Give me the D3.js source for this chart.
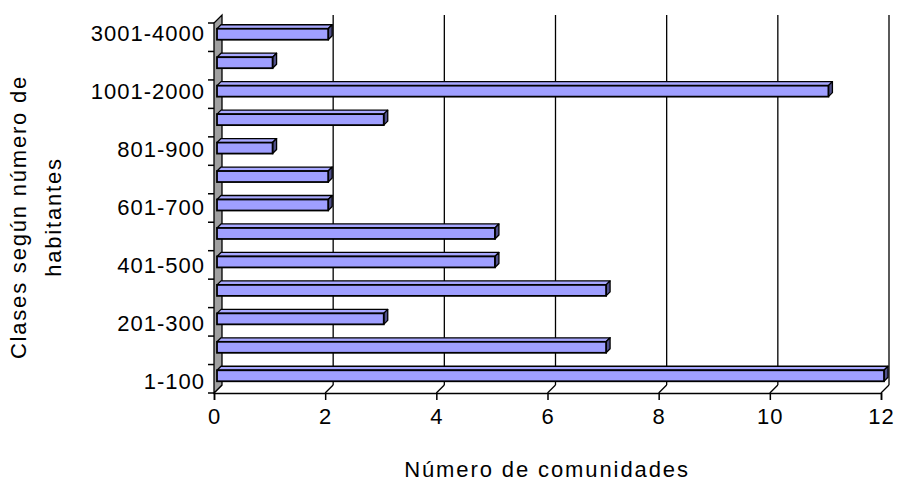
<!DOCTYPE html>
<html><head><meta charset="utf-8">
<script src="https://cdn.jsdelivr.net/npm/d3@7"></script>
<style>
html,body{margin:0;padding:0;background:#fff;}
text{font-family:"Liberation Sans",Arial,sans-serif;fill:#000;}
</style>
</head><body>
<svg id="c" width="897" height="482"></svg>
<script>
const categories = ["1-100","101-200","201-300","301-400","401-500","501-600","601-700","701-800","801-900","901-1000","1001-2000","2001-3000","3001-4000"];
const values = [12,7,3,7,5,5,2,2,1,3,11,1,2];
const xTicks = [0,2,4,6,8,10,12];
const labelShown = ["1-100","201-300","401-500","601-700","801-900","1001-2000","3001-4000"];
const xTitle = "Número de comunidades";
const yTitle = ["Clases según número de","habitantes"];

(function(){
const svg = d3.select("#c");
const DX = 8, DY = -8;         // depth offset (floor/wall)
const x = d3.scaleLinear().domain([0,12]).range([214,881]);
const y = d3.scaleBand().domain(categories).range([393,23]).padding(0);
const yLab = d3.scalePoint().domain(categories).range([381,33]);
const yBottom = 393, yTop = 23;

// back wall gridlines
svg.append("g").selectAll("line").data(xTicks.filter(d=>d>0)).join("line")
  .attr("x1",d=>x(d)+DX).attr("x2",d=>x(d)+DX)
  .attr("y1",yBottom+DY).attr("y2",yTop+DY)
  .attr("stroke","#000").attr("stroke-width",1.3);
// floor diagonals
svg.append("g").selectAll("line").data(xTicks).join("line")
  .attr("x1",d=>x(d)).attr("x2",d=>x(d)+DX)
  .attr("y1",yBottom).attr("y2",yBottom+DY)
  .attr("stroke","#000").attr("stroke-width",1.3);

// left wall
svg.append("polygon")
  .attr("points",[[x(0),yBottom],[x(0),yTop],[x(0)+DX,yTop+DY],[x(0)+DX,yBottom+DY]].map(p=>p.join(",")).join(" "))
  .attr("fill","#a0a0a0").attr("stroke","#000").attr("stroke-width",1.3);

// x axis
const xa = svg.append("g").attr("transform",`translate(0,${yBottom})`)
  .call(d3.axisBottom(x).tickValues(xTicks).tickSize(7).tickPadding(8).tickFormat(d3.format("d")));
xa.select(".domain").attr("stroke-width",1.5);
xa.selectAll(".tick line").attr("stroke-width",1.5);
xa.selectAll("text").style("font-size","22px").style("letter-spacing","1px").attr("font-family",null);

// y axis ticks at boundaries
const bounds = d3.range(categories.length+1).map(i=>yBottom - i*y.step());
svg.append("g").selectAll("line").data(bounds).join("line")
  .attr("x1",x(0)-6).attr("x2",x(0)).attr("y1",d=>d).attr("y2",d=>d)
  .attr("stroke","#000").attr("stroke-width",1.5);
svg.append("g").selectAll("text").data(categories.filter(c=>labelShown.includes(c))).join("text")
  .attr("x",205).attr("y",d=>yLab(d)).attr("dy","0.36em")
  .attr("text-anchor","end").style("font-size","22px").style("letter-spacing","1px")
  .text(d=>d);

// bars (3D)
const off = 3, dep = 4, th = 11;
const bars = svg.append("g");
categories.forEach((c,i)=>{
  const v = values[i];
  const cy = y(c)+y.bandwidth()/2 - off;
  const x0 = x(0)+off, x1 = x(v)+off;
  const ya = cy - th/2, yb = cy + th/2;
  const g = bars.append("g");
  g.append("polygon").attr("points",[[x0,ya],[x1,ya],[x1+dep,ya-dep],[x0+dep,ya-dep]].map(p=>p.join(",")).join(" "))
    .attr("fill","#a8a8ff").attr("stroke","#000").attr("stroke-width",1.3).attr("stroke-linejoin","round");
  g.append("polygon").attr("points",[[x1,ya],[x1+dep,ya-dep],[x1+dep,yb-dep],[x1,yb]].map(p=>p.join(",")).join(" "))
    .attr("fill","#50508a").attr("stroke","#000").attr("stroke-width",1.3).attr("stroke-linejoin","round");
  g.append("rect").attr("x",x0).attr("y",ya).attr("width",x1-x0).attr("height",th)
    .attr("fill","#9f9fff").attr("stroke","#000").attr("stroke-width",1.8);
});

// titles
svg.append("text").attr("x",547).attr("y",477).attr("text-anchor","middle")
  .style("font-size","22px").style("letter-spacing","1.9px").text(xTitle);
const yTitleText = svg.append("text").attr("transform","translate(0,217) rotate(-90)").attr("text-anchor","middle")
  .style("font-size","22px").style("letter-spacing","1.8px");
yTitleText.append("tspan").attr("x",0).attr("y",26).text(yTitle[0]);
yTitleText.append("tspan").attr("x",0).attr("y",61).text(yTitle[1]);
})();
</script>
</body></html>
